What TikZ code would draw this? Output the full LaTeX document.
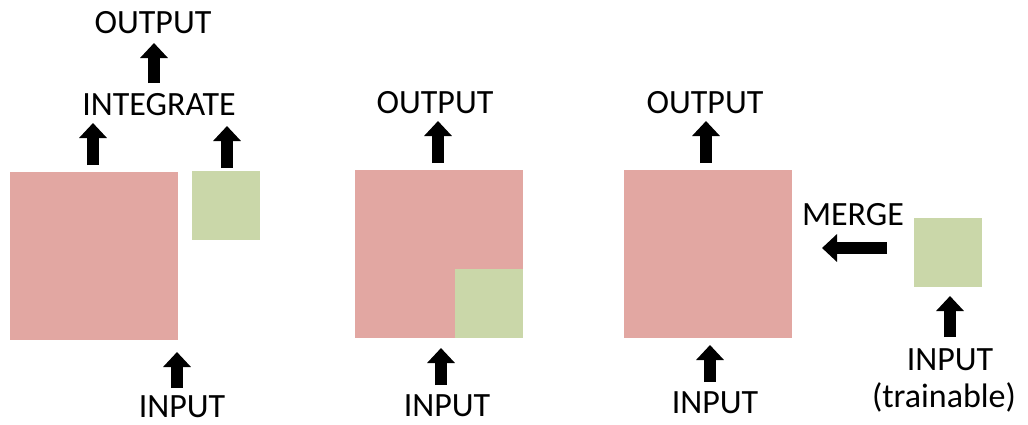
\documentclass[tikz,border=0pt]{standalone}
\usepackage{fontspec}
\setmainfont{Carlito}
\usetikzlibrary{arrows.meta}
\definecolor{boxpink}{HTML}{E2A7A2}
\definecolor{boxgreen}{HTML}{CAD7A9}
\begin{document}
\begin{tikzpicture}[x=0.5pt, y=-0.5pt,
	label/.style={anchor=base, inner sep=0pt, font=\fontsize{17}{20}\selectfont},
	block/.style={fill=boxpink, inner sep=0pt, minimum width=#1, minimum height=#1},
	small/.style={fill=boxgreen, inner sep=0pt, minimum width=34pt, minimum height=34.5pt},
	fat/.style={line width=6pt, -{Triangle[width=13.5pt, length=7.5pt]}}]

	\useasboundingbox (0,0) rectangle (1028,424);

	% left: integrate
	\node[block=84pt] (pinkA) at (93.5,255.5) {};
	\node[small] (greenA) at (226,205.5) {};
	\node[label] (integrate) at (159,115) {INTEGRATE};
	\node[label] (outA) at (153,33) {OUTPUT};
	\node[label] (inA) at (182,417) {INPUT};

	% middle
	\node[block=84pt] (pinkB) at (439,254) {};
	\node[small] (greenB) at (488.5,303.5) {};
	\node[label] (outB) at (435,113) {OUTPUT};
	\node[label] (inB) at (447,416) {INPUT};

	% right: merge
	\node[block=84pt] (pinkC) at (707.5,254) {};
	\node[small] (greenC) at (947.5,252.5) {};
	\node[label] (outC) at (705,113) {OUTPUT};
	\node[label] (inC) at (715,413) {INPUT};
	\node[label] (merge) at (853,225) {MERGE};
	\node[label] (inD) at (950,370) {INPUT};
	\node[label] (trainable) at (944,407) {(trainable)};

	\coordinate (a1) at (93,165);  \coordinate (b1) at (93,123);
	\coordinate (a2) at (227,168); \coordinate (b2) at (227,126);
	\coordinate (a3) at (154,83);  \coordinate (b3) at (154,43);
	\coordinate (a4) at (177,388); \coordinate (b4) at (177,352);
	\coordinate (a5) at (438,163); \coordinate (b5) at (438,121);
	\coordinate (a6) at (441,385); \coordinate (b6) at (441,348);
	\coordinate (a7) at (706,163); \coordinate (b7) at (706,121);
	\coordinate (a8) at (710,382); \coordinate (b8) at (710,345);
	\coordinate (a9) at (887,248); \coordinate (b9) at (822,248);
	\coordinate (a10) at (950,337); \coordinate (b10) at (950,296);

	\foreach \i in {1,...,10}
		\draw[fat] (a\i) -- (b\i);
\end{tikzpicture}
\end{document}
